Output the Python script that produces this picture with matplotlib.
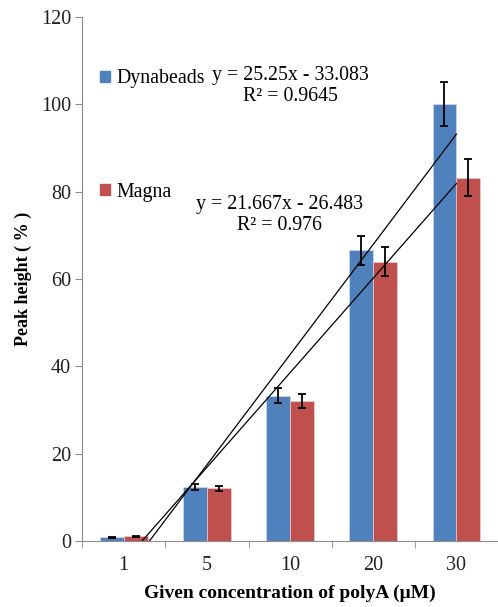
import matplotlib

matplotlib.use("Agg")
import matplotlib.pyplot as plt
import numpy as np
from matplotlib.patches import Patch

plt.rcParams["font.family"] = ["Liberation Serif", "DejaVu Serif"]

CONCENTRATIONS = ["1", "5", "10", "20", "30"]
DYNABEADS = [0.8, 12.4, 33.2, 66.6, 100.0]
DYNABEADS_ERR = [0.15, 0.65, 1.7, 3.3, 5.0]
MAGNA = [1.0, 12.0, 32.0, 63.9, 83.2]
MAGNA_ERR = [0.15, 0.6, 1.6, 3.3, 4.2]
FITS = [(25.25, -33.083), (21.667, -26.483)]
FIT_LABELS = ["y = 25.25x - 33.083\nR² = 0.9645", "y = 21.667x - 26.483\nR² = 0.976"]

BLUE = "#4f81bd"
RED = "#c0504d"
AXIS = "#8c8c8c"

fig = plt.figure(figsize=(4.98, 6.07), dpi=100, facecolor="white")
ax = fig.add_axes([0.165, 0.109, 0.835, 0.863])

x = np.arange(1, len(CONCENTRATIONS) + 1)
w = 0.287
err_kw = dict(ecolor="black", elinewidth=1.3, capsize=3, capthick=1.3)
ax.bar(x - w / 2, DYNABEADS, w, color=BLUE, yerr=DYNABEADS_ERR, error_kw=err_kw,
       edgecolor="#dbe4f0", linewidth=0.4, zorder=2)
ax.bar(x + w / 2, MAGNA, w, color=RED, yerr=MAGNA_ERR, error_kw=err_kw,
       edgecolor="#f0dada", linewidth=0.4, zorder=2)

# linear trendlines over category index, clipped at the axis floor
xs = np.linspace(1, 5, 200)
for slope, icpt in FITS:
    ax.plot(xs, slope * xs + icpt, color="black", linewidth=0.9, zorder=3)

ax.set_xlim(0.5, 5.5)
ax.set_ylim(0, 120)
ax.set_yticks(range(0, 121, 20))
ax.set_xticks(x)
ax.set_xticklabels(CONCENTRATIONS)
ax.set_xticks(np.arange(0.5, 5.6, 1), minor=True)
ax.tick_params(axis="x", which="major", length=0, labelsize=14.5, pad=11, colors="#222222")
ax.tick_params(axis="x", which="minor", length=5, color=AXIS, direction="out")
ax.tick_params(axis="y", length=5, color=AXIS, labelsize=14.5, colors="#222222", pad=3)

for side in ("top", "right"):
    ax.spines[side].set_visible(False)
for side in ("left", "bottom"):
    ax.spines[side].set_color(AXIS)

ax.set_ylabel("Peak height ( % )", fontsize=13, fontweight="bold", labelpad=6)
ax.set_xlabel("Given concentration of polyA (μM)", fontsize=14, fontweight="bold", labelpad=7)

handles = [Patch(color=BLUE, label="Dynabeads"), Patch(color=RED, label="Magna")]
ax.legend(handles=handles, loc="upper left", bbox_to_anchor=(0.024, 0.915), frameon=False,
          fontsize=14.3, handlelength=0.5, handleheight=0.5, handletextpad=0.3,
          labelspacing=4.75, borderaxespad=0)

ax.text(3.0, 104.2, FIT_LABELS[0], ha="center", va="center", fontsize=14.3,
        linespacing=1.15)
ax.text(2.87, 74.7, FIT_LABELS[1], ha="center", va="center", fontsize=14.3,
        linespacing=1.15)

fig.savefig("out.png", dpi=100, facecolor="white")
